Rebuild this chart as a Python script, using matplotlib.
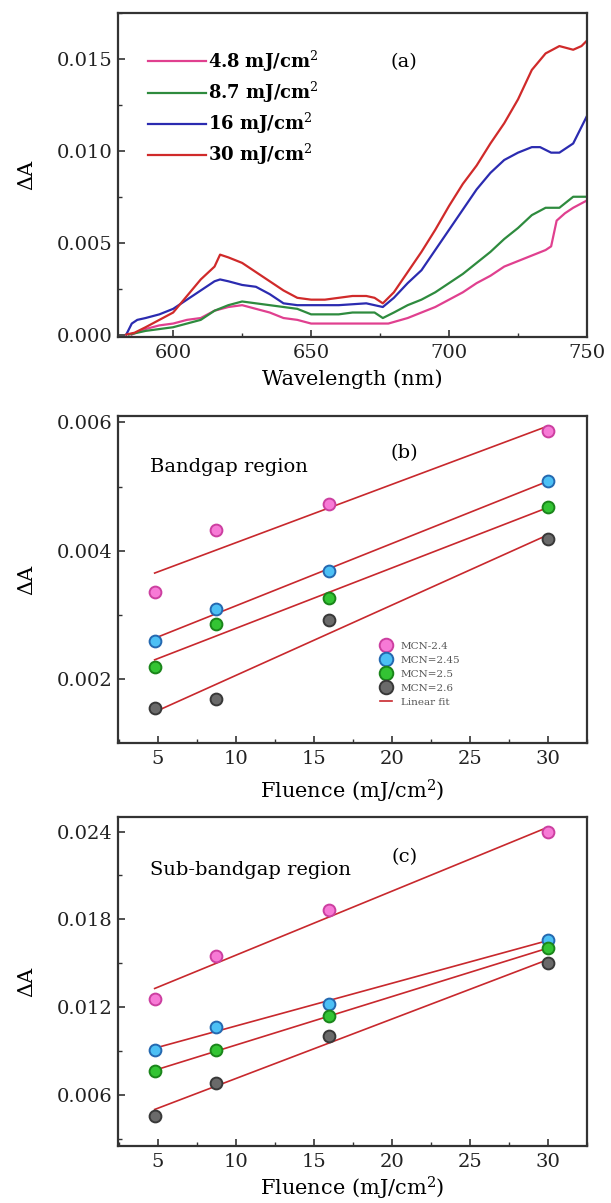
import numpy as np
import matplotlib
matplotlib.use("Agg")
import matplotlib.pyplot as plt
from matplotlib.ticker import MultipleLocator, FormatStrFormatter

plt.rcParams["font.family"] = ["DejaVu Serif"]
plt.rcParams["mathtext.fontset"] = "dejavuserif"

# -----------------------------
# Panel (a) spectra
# -----------------------------
wl_30 = [583, 586, 590, 595, 600, 605, 610, 615, 617, 620, 625, 630, 635, 640, 645, 650, 655, 660, 665, 670, 673, 676, 680, 685, 690, 695, 700, 705, 710, 715, 720, 725, 730, 735, 740, 745, 748, 750]
da_30 = [0.0, 0.0001, 0.0004, 0.0008, 0.0012, 0.0021, 0.0030, 0.0037, 0.00435, 0.0042, 0.0039, 0.0034, 0.0029, 0.0024, 0.0020, 0.0019, 0.0019, 0.0020, 0.0021, 0.0021, 0.0020, 0.0017, 0.0023, 0.0034, 0.0045, 0.0057, 0.0070, 0.0082, 0.0092, 0.0104, 0.0115, 0.0128, 0.0144, 0.0153, 0.0157, 0.0155, 0.0157, 0.0160]

wl_16 = [583, 585, 587, 590, 595, 600, 605, 610, 615, 617, 620, 625, 630, 635, 640, 645, 650, 660, 670, 676, 680, 685, 690, 695, 700, 705, 710, 715, 720, 725, 730, 733, 737, 740, 745, 750]
da_16 = [0.0, 0.0006, 0.0008, 0.0009, 0.0011, 0.0014, 0.0019, 0.0024, 0.0029, 0.0030, 0.0029, 0.0027, 0.0026, 0.0022, 0.0017, 0.0016, 0.0016, 0.0016, 0.0017, 0.0015, 0.0020, 0.0028, 0.0035, 0.0046, 0.0057, 0.0068, 0.0079, 0.0088, 0.0095, 0.0099, 0.0102, 0.0102, 0.0099, 0.0099, 0.0104, 0.0119]

wl_87 = [584, 587, 590, 595, 600, 605, 610, 615, 620, 625, 630, 635, 640, 645, 650, 655, 660, 665, 670, 673, 676, 680, 685, 690, 695, 700, 705, 710, 715, 720, 725, 730, 735, 740, 745, 750]
da_87 = [0.0, 0.0001, 0.0002, 0.0003, 0.0004, 0.0006, 0.0008, 0.0013, 0.0016, 0.0018, 0.0017, 0.0016, 0.0015, 0.0014, 0.0011, 0.0011, 0.0011, 0.0012, 0.0012, 0.0012, 0.0009, 0.0012, 0.0016, 0.0019, 0.0023, 0.0028, 0.0033, 0.0039, 0.0045, 0.0052, 0.0058, 0.0065, 0.0069, 0.0069, 0.0075, 0.0075]

wl_48 = [585, 588, 590, 595, 600, 605, 610, 615, 620, 625, 630, 635, 640, 645, 650, 660, 670, 678, 685, 690, 695, 700, 705, 710, 715, 720, 725, 730, 735, 737, 739, 742, 745, 750]
da_48 = [0.0, 0.0002, 0.0003, 0.0005, 0.0006, 0.0008, 0.0009, 0.0013, 0.0015, 0.0016, 0.0014, 0.0012, 0.0009, 0.0008, 0.0006, 0.0006, 0.0006, 0.0006, 0.0009, 0.0012, 0.0015, 0.0019, 0.0023, 0.0028, 0.0032, 0.0037, 0.0040, 0.0043, 0.0046, 0.0048, 0.0062, 0.0066, 0.0069, 0.0073]

spec_labels = ["4.8 mJ/cm$^2$", "8.7 mJ/cm$^2$", "16 mJ/cm$^2$", "30 mJ/cm$^2$"]
spec_colors = ["#e0408f", "#2e8b3e", "#2b2bb0", "#d02a2a"]

# -----------------------------
# Panels (b), (c) fluence dependence
# -----------------------------
fluence = [4.8, 8.7, 16, 30]
samples = ["MCN-2.4", "MCN=2.45", "MCN=2.5", "MCN=2.6"]
band_gap = [
    [0.00336, 0.00432, 0.00473, 0.00587],
    [0.00260, 0.00309, 0.00369, 0.00509],
    [0.00220, 0.00286, 0.00326, 0.00469],
    [0.00156, 0.00170, 0.00293, 0.00419],
]
sub_gap = [
    [0.01254, 0.01552, 0.01866, 0.02400],
    [0.00905, 0.01063, 0.01224, 0.01660],
    [0.00761, 0.00905, 0.01139, 0.01602],
    [0.00456, 0.00680, 0.01001, 0.01501],
]
face_colors = ["#f77ad6", "#4cc0f5", "#33c433", "#6a6a6a"]
edge_colors = ["#cc3fa0", "#2468b0", "#1a851a", "#383838"]
fit_color = "#c8282d"

fig = plt.figure(figsize=(6.11, 12.03), dpi=100)
ax_a = fig.add_axes([0.1931, 0.7199, 0.7676, 0.2693])
ax_b = fig.add_axes([0.1931, 0.3824, 0.7676, 0.2718])
ax_c = fig.add_axes([0.1931, 0.0474, 0.7676, 0.2735])

for ax in (ax_a, ax_b, ax_c):
    for s in ax.spines.values():
        s.set_linewidth(1.6)
        s.set_color("#333333")
    ax.tick_params(which="both", direction="in", labelsize=14, top=False, right=False,
                   colors="#333333", labelcolor="#222222")
    ax.tick_params(which="major", length=5, width=1.2, pad=5)
    ax.tick_params(which="minor", length=3, width=1.0)
    ax.tick_params(axis="y", which="major", pad=4)
    ax.yaxis.set_label_coords(-0.175, 0.5)

# (a)
for wl, da, lab, c in zip([wl_48, wl_87, wl_16, wl_30], [da_48, da_87, da_16, da_30], spec_labels, spec_colors):
    ax_a.plot(wl, da, color=c, lw=1.6, label=lab)
ax_a.set_xlim(580, 750)
ax_a.set_ylim(-0.00013, 0.0175)
ax_a.xaxis.set_major_locator(MultipleLocator(50))
ax_a.xaxis.set_minor_locator(MultipleLocator(25))
ax_a.yaxis.set_major_locator(MultipleLocator(0.005))
ax_a.yaxis.set_minor_locator(MultipleLocator(0.0025))
ax_a.yaxis.set_major_formatter(FormatStrFormatter("%.3f"))
ax_a.set_xlabel("Wavelength (nm)", fontsize=15)
ax_a.xaxis.set_label_coords(0.5, -0.1)
ax_a.set_ylabel("ΔA", fontsize=15)
ax_a.legend(loc="upper left", bbox_to_anchor=(0.03, 0.94), frameon=False, handlelength=3.2,
            handletextpad=0.1, labelspacing=0.33, prop={"size": 13, "weight": "bold"})
ax_a.text(0.61, 0.849, "(a)", transform=ax_a.transAxes, fontsize=14, ha="center", va="center")

# (b) and (c)
def fluence_panel(ax, data, ylim, major, tag, region, tag_y, region_y, with_legend):
    for vals, fc, ec, name in zip(data, face_colors, edge_colors, samples):
        ax.plot(fluence, vals, "o", ms=8.5, mfc=fc, mec=ec, mew=1.4, label=name, zorder=3)
    for i, vals in enumerate(data):
        k, b = np.polyfit(fluence, vals, 1)
        xs = np.array([fluence[0], fluence[-1]])
        ax.plot(xs, k * xs + b, color=fit_color, lw=1.2, label="Linear fit" if i == 0 else None, zorder=2)
    ax.set_xlim(2.45, 32.5)
    ax.set_ylim(*ylim)
    ax.xaxis.set_major_locator(MultipleLocator(5))
    ax.xaxis.set_minor_locator(MultipleLocator(2.5))
    ax.yaxis.set_major_locator(MultipleLocator(major))
    ax.yaxis.set_minor_locator(MultipleLocator(major / 2))
    ax.yaxis.set_major_formatter(FormatStrFormatter("%.3f"))
    ax.set_xlabel("Fluence (mJ/cm$^2$)", fontsize=15)
    ax.set_ylabel("ΔA", fontsize=15)
    ax.text(0.61, tag_y, tag, transform=ax.transAxes, fontsize=14, ha="center", va="center")
    ax.text(0.068, region_y, region, transform=ax.transAxes, fontsize=14, ha="left", va="center")
    if with_legend:
        h, l = ax.get_legend_handles_labels()
        ax.legend(h, l, loc="upper left", bbox_to_anchor=(0.558, 0.31), frameon=False,
                  borderaxespad=0, borderpad=0, handlelength=1.2, handletextpad=0.8,
                  labelspacing=0.45, markerscale=1.15, prop={"size": 7.5}, labelcolor="#555555")

fluence_panel(ax_b, band_gap, (0.00101, 0.0061), 0.002, "(b)", "Bandgap region", 0.887, 0.844, True)
ax_b.xaxis.set_label_coords(0.5, -0.105)
fluence_panel(ax_c, sub_gap, (0.0025, 0.025), 0.006, "(c)", "Sub-bandgap region", 0.878, 0.839, False)
ax_c.xaxis.set_label_coords(0.5, -0.088)

fig.savefig("out.png", dpi=100)
